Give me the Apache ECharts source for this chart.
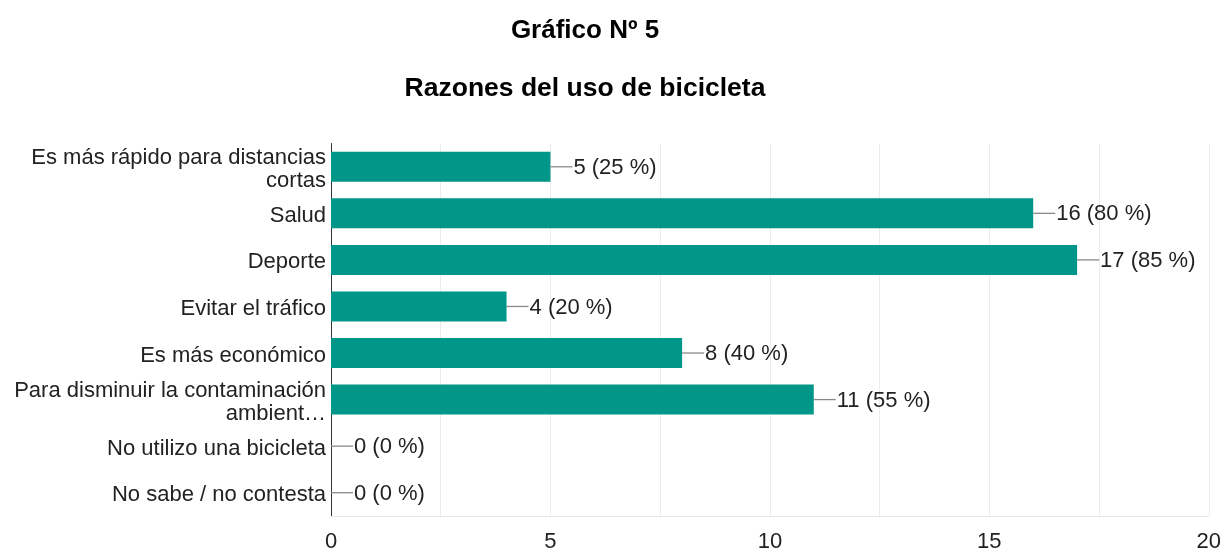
<!DOCTYPE html>
<html>
<head>
<meta charset="utf-8">
<script src="https://cdn.jsdelivr.net/npm/echarts@6/dist/echarts.min.js"></script>
<style>html,body{margin:0;padding:0;background:#fff}#c{width:1224px;height:553px}</style>
</head>
<body>
<div id="c"></div>
<script>
var categories = [
  "Es más rápido para distancias\ncortas",
  "Salud",
  "Deporte",
  "Evitar el tráfico",
  "Es más económico",
  "Para disminuir la contaminación\nambient…",
  "No utilizo una bicicleta",
  "No sabe / no contesta"
];
var values = [5, 16, 17, 4, 8, 11, 0, 0];
var percents = [25, 80, 85, 20, 40, 55, 0, 0];
var xTicks = [0, 5, 10, 15, 20];

var FONT = "'Liberation Sans', Arial, sans-serif";
var chart = echarts.init(document.getElementById('c'));
chart.setOption({
  animation: false,
  title: [
    { text: "Gráfico Nº 5", left: 580, top: 13, textAlign: 'center',
      textStyle: { fontFamily: FONT, fontSize: 26, fontWeight: 'bold', color: '#000' } },
    { text: "Razones del uso de bicicleta", left: 580, top: 70, textAlign: 'center',
      textStyle: { fontFamily: FONT, fontSize: 26.5, fontWeight: 'bold', color: '#000' } }
  ],
  grid: { left: 331, right: 14, top: 143.5, bottom: 33.5, containLabel: false },
  xAxis: {
    type: 'value', min: 0, max: 20, interval: 2.5,
    axisLine: { show: true, lineStyle: { color: '#e6e6e6' } },
    axisTick: { show: false },
    splitLine: { show: true, lineStyle: { color: '#ececec', width: 1 } },
    axisLabel: {
      margin: 15, fontFamily: FONT, fontSize: 22, color: '#222',
      formatter: function (v) { return xTicks.indexOf(v) >= 0 ? String(v) : ''; }
    }
  },
  yAxis: {
    type: 'category', data: categories, inverse: true,
    axisLine: { show: true, lineStyle: { color: '#333', width: 1 } },
    axisTick: { show: false },
    splitLine: { show: false },
    axisLabel: {
      margin: 5, color: '#222',
      formatter: function (v) {
        return v.split('\n').map(function (s) { return '{a|' + s + '}'; }).join('\n');
      },
      rich: {
        a: { fontFamily: FONT, fontSize: 22, lineHeight: 23, color: '#222', padding: [5, 0, 0, 0] }
      }
    }
  },
  series: [{
    type: 'bar',
    data: values,
    barWidth: 30,
    itemStyle: { color: '#009688' },
    label: {
      show: true, position: 'right', distance: 0,
      formatter: function (p) {
        return '{l|}{t|' + values[p.dataIndex] + ' (' + percents[p.dataIndex] + ' %)}';
      },
      rich: {
        l: { width: 22, height: 1.3, backgroundColor: '#8a8a8a' },
        t: { fontFamily: FONT, fontSize: 22, color: '#222', padding: [2, 0, 0, 1] }
      }
    }
  }]
});
</script>
</body>
</html>
